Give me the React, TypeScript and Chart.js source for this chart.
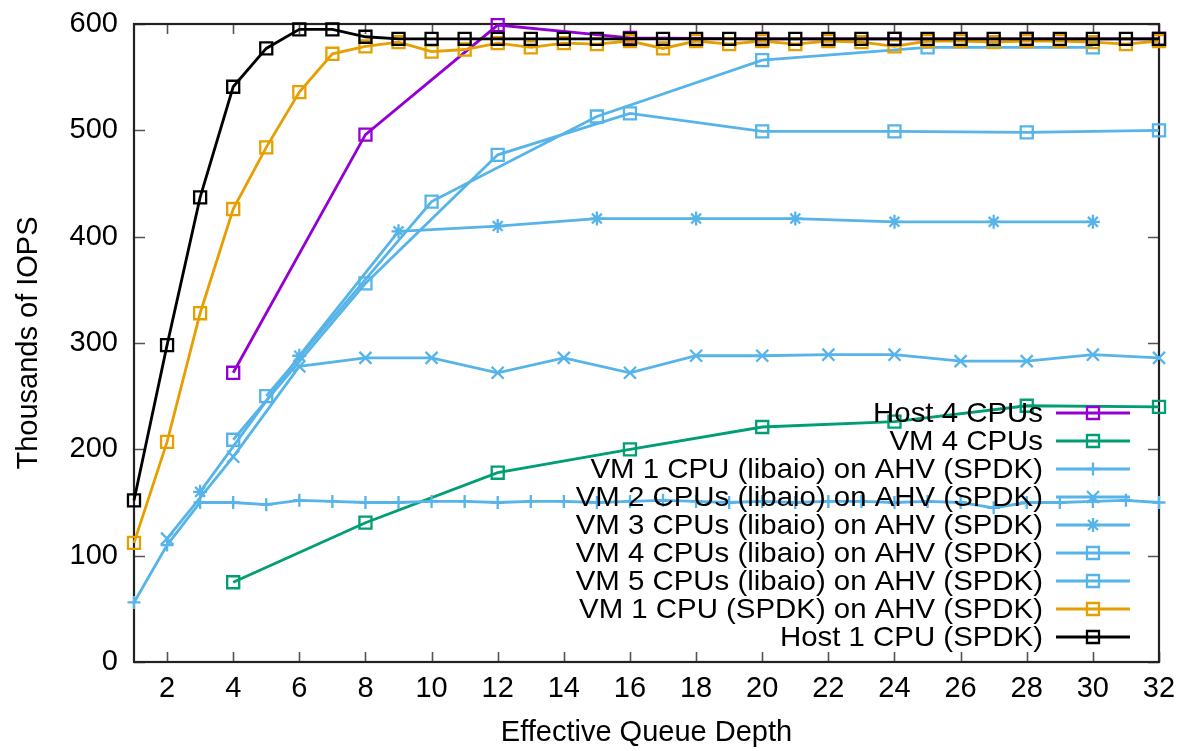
import React, { useEffect, useRef } from 'react';
import { Chart, registerables } from 'chart.js';
import { drawPoint } from 'chart.js/helpers';

Chart.register(...registerables);

// ---- data ----
const xTicks = [2, 4, 6, 8, 10, 12, 14, 16, 18, 20, 22, 24, 26, 28, 30, 32];
const yTicks = [0, 100, 200, 300, 400, 500, 600];

const xEvery = [1, 2, 3, 4, 5, 6, 7, 8, 9, 10, 11, 12, 13, 14, 15, 16, 17, 18, 19, 20, 21, 22, 23, 24, 25, 26, 27, 28, 29, 30, 31, 32];
const xBy2 = [2, 4, 6, 8, 10, 12, 14, 16, 18, 20, 22, 24, 26, 28, 30, 32];
const xBy3 = [3, 6, 9, 12, 15, 18, 21, 24, 27, 30];
const xBy4 = [4, 8, 12, 16, 20, 24, 28, 32];
const xBy5 = [5, 10, 15, 20, 25, 30];

const host4Cpus = [272, 496, 599, 587, 586, 586, 586, 586];
const vm4Cpus = [75, 131, 178, 200, 221, 226, 241, 240];
const vm1Libaio = [56, 110, 150, 150, 148, 152, 151, 150, 150, 151, 151, 150, 151, 151, 150, 151, 152, 151, 150, 151, 150, 151, 151, 150, 151, 150, 145, 150, 150, 151, 152, 150];
const vm2Libaio = [116, 193, 278, 286, 286, 272, 286, 272, 288, 288, 289, 289, 283, 283, 289, 286];
const vm3Libaio = [160, 288, 405, 410, 417, 417, 417, 414, 414, 414];
const vm4Libaio = [209, 356, 477, 516, 499, 499, 498, 500];
const vm5Libaio = [250, 433, 513, 566, 578, 578];
const vm1Spdk = [112, 207, 328, 426, 484, 536, 572, 579, 583, 574, 576, 582, 578, 582, 581, 584, 577, 584, 581, 584, 581, 584, 583, 579, 584, 584, 583, 584, 584, 583, 581, 584];
const host1Spdk = [152, 298, 437, 541, 577, 595, 595, 588, 586, 586, 586, 586, 586, 586, 586, 586, 586, 586, 586, 586, 586, 586, 586, 586, 586, 586, 586, 586, 586, 586, 586, 586];

const seriesLabels = [
  'Host 4 CPUs',
  'VM 4 CPUs',
  'VM 1 CPU (libaio) on AHV (SPDK)',
  'VM 2 CPUs (libaio) on AHV (SPDK)',
  'VM 3 CPUs (libaio) on AHV (SPDK)',
  'VM 4 CPUs (libaio) on AHV (SPDK)',
  'VM 5 CPUs (libaio) on AHV (SPDK)',
  'VM 1 CPU (SPDK) on AHV (SPDK)',
  'Host 1 CPU (SPDK)',
];

const FONT = '"Liberation Sans", Arial, Helvetica, sans-serif';
const PURPLE = '#9400d3';
const GREEN = '#009e73';
const BLUE = '#56b4e9';
const ORANGE = '#e69f00';
const BLACK = '#000000';

function pts(xs: number[], ys: number[]) {
  return xs.map((x, i) => ({ x, y: ys[i] }));
}

const framePlugin = {
  id: 'gpFrame',
  beforeDatasetsDraw(chart: any) {
    const { ctx, chartArea: a, scales } = chart;
    const x = scales.x;
    const y = scales.y;
    ctx.save();
    ctx.strokeStyle = '#555';
    ctx.lineWidth = 1.6;
    ctx.beginPath();
    xTicks.forEach((v) => {
      const px = Math.round(x.getPixelForValue(v)) + 0.5;
      ctx.moveTo(px, a.bottom);
      ctx.lineTo(px, a.bottom - 10);
      ctx.moveTo(px, a.top);
      ctx.lineTo(px, a.top + 10);
    });
    yTicks.forEach((v) => {
      const py = Math.round(y.getPixelForValue(v)) + 0.5;
      ctx.moveTo(a.left, py);
      ctx.lineTo(a.left + 11, py);
      ctx.moveTo(a.right, py);
      ctx.lineTo(a.right - 11, py);
    });
    ctx.stroke();
    ctx.strokeStyle = '#222';
    ctx.lineWidth = 2.2;
    ctx.strokeRect(a.left, a.top, a.right - a.left, a.bottom - a.top);
    ctx.restore();
  },
};

const legendPlugin = {
  id: 'gpLegend',
  afterDatasetsDraw(chart: any) {
    const ctx = chart.ctx;
    const datasets = chart.data.datasets;
    ctx.save();
    ctx.font = '28px ' + FONT;
    ctx.textAlign = 'right';
    ctx.textBaseline = 'middle';
    datasets.forEach((ds: any, i: number) => {
      const cy = 413 + i * 28;
      ctx.fillStyle = '#000';
      ctx.save();
      ctx.translate(1043, cy + 1);
      ctx.scale(1.05, 1);
      ctx.fillText(ds.label, 0, 0);
      ctx.restore();
      ctx.strokeStyle = ds.borderColor;
      ctx.lineWidth = ds.borderWidth;
      ctx.beginPath();
      ctx.moveTo(1056, cy);
      ctx.lineTo(1130, cy);
      ctx.stroke();
      ctx.fillStyle = 'rgba(0,0,0,0)';
      ctx.lineWidth = ds.pointBorderWidth;
      drawPoint(ctx, { pointStyle: ds.pointStyle, radius: ds.pointRadius, rotation: 0, borderWidth: ds.pointBorderWidth }, 1093, cy);
    });
    ctx.restore();
  },
};

export default function App() {
  const ref = useRef<HTMLCanvasElement | null>(null);

  useEffect(() => {
    document.body.style.margin = '0';
    const canvas = ref.current;
    if (!canvas) return;

    const styles = [
      { xs: xBy4, ys: host4Cpus, color: PURPLE, ps: 'rect', r: 8.5 },
      { xs: xBy4, ys: vm4Cpus, color: GREEN, ps: 'rect', r: 8.5 },
      { xs: xEvery, ys: vm1Libaio, color: BLUE, ps: 'cross', r: 6.5 },
      { xs: xBy2, ys: vm2Libaio, color: BLUE, ps: 'crossRot', r: 8.5 },
      { xs: xBy3, ys: vm3Libaio, color: BLUE, ps: 'star', r: 7 },
      { xs: xBy4, ys: vm4Libaio, color: BLUE, ps: 'rect', r: 8.5 },
      { xs: xBy5, ys: vm5Libaio, color: BLUE, ps: 'rect', r: 8.5 },
      { xs: xEvery, ys: vm1Spdk, color: ORANGE, ps: 'rect', r: 8.5 },
      { xs: xEvery, ys: host1Spdk, color: BLACK, ps: 'rect', r: 8.5 },
    ];

    const datasets = styles.map((s, i) => ({
      label: seriesLabels[i],
      data: pts(s.xs, s.ys),
      borderColor: s.color,
      backgroundColor: 'rgba(0,0,0,0)',
      pointBorderColor: s.color,
      pointBackgroundColor: 'rgba(0,0,0,0)',
      borderWidth: 2.8,
      pointBorderWidth: 2.3,
      pointStyle: s.ps,
      pointRadius: s.r,
      pointHoverRadius: s.r,
      tension: 0,
      fill: false,
      clip: false as any,
      order: styles.length - 1 - i,
    }));

    const chart = new Chart(canvas, {
      type: 'line',
      data: { datasets: datasets as any },
      options: {
        animation: false,
        responsive: false,
        devicePixelRatio: 1,
        layout: { padding: { left: 0, right: 23, top: 24, bottom: 0 } },
        plugins: {
          legend: { display: false },
          tooltip: { enabled: false },
        },
        scales: {
          x: {
            type: 'linear',
            min: 1,
            max: 32,
            grid: { display: false, drawTicks: false },
            border: { display: false },
            ticks: {
              color: '#000',
              padding: 10,
              font: { family: FONT, size: 29 },
              maxRotation: 0,
              autoSkip: false,
            },
            afterBuildTicks: (scale: any) => {
              scale.ticks = xTicks.map((v) => ({ value: v }));
            },
            afterFit: (scale: any) => {
              scale.height = 89;
              scale.paddingLeft = 0;
              scale.paddingRight = 0;
              scale.paddingTop = 0;
              scale.paddingBottom = 0;
            },
            title: {
              display: true,
              text: 'Effective Queue Depth',
              color: '#000',
              font: { family: FONT, size: 29 },
              padding: { top: 0, bottom: 1 },
            },
          },
          y: {
            type: 'linear',
            min: 0,
            max: 600,
            grid: { display: false, drawTicks: false },
            border: { display: false },
            ticks: {
              color: '#000',
              padding: 16,
              font: { family: FONT, size: 29 },
              autoSkip: false,
            },
            afterBuildTicks: (scale: any) => {
              scale.ticks = yTicks.map((v) => ({ value: v }));
            },
            afterFit: (scale: any) => {
              scale.width = 134;
              scale.paddingLeft = 0;
              scale.paddingRight = 0;
              scale.paddingTop = 0;
              scale.paddingBottom = 0;
            },
            title: {
              display: true,
              text: 'Thousands of IOPS',
              color: '#000',
              font: { family: FONT, size: 29 },
              padding: { top: 12, bottom: 0 },
            },
          },
        },
      },
      plugins: [framePlugin, legendPlugin],
    });

    return () => {
      chart.destroy();
    };
  }, []);

  return (
    <div style={{ width: 1182, height: 751 }}>
      <canvas ref={ref} width={1182} height={751} style={{ display: 'block', width: 1182, height: 751 }} />
    </div>
  );
}
